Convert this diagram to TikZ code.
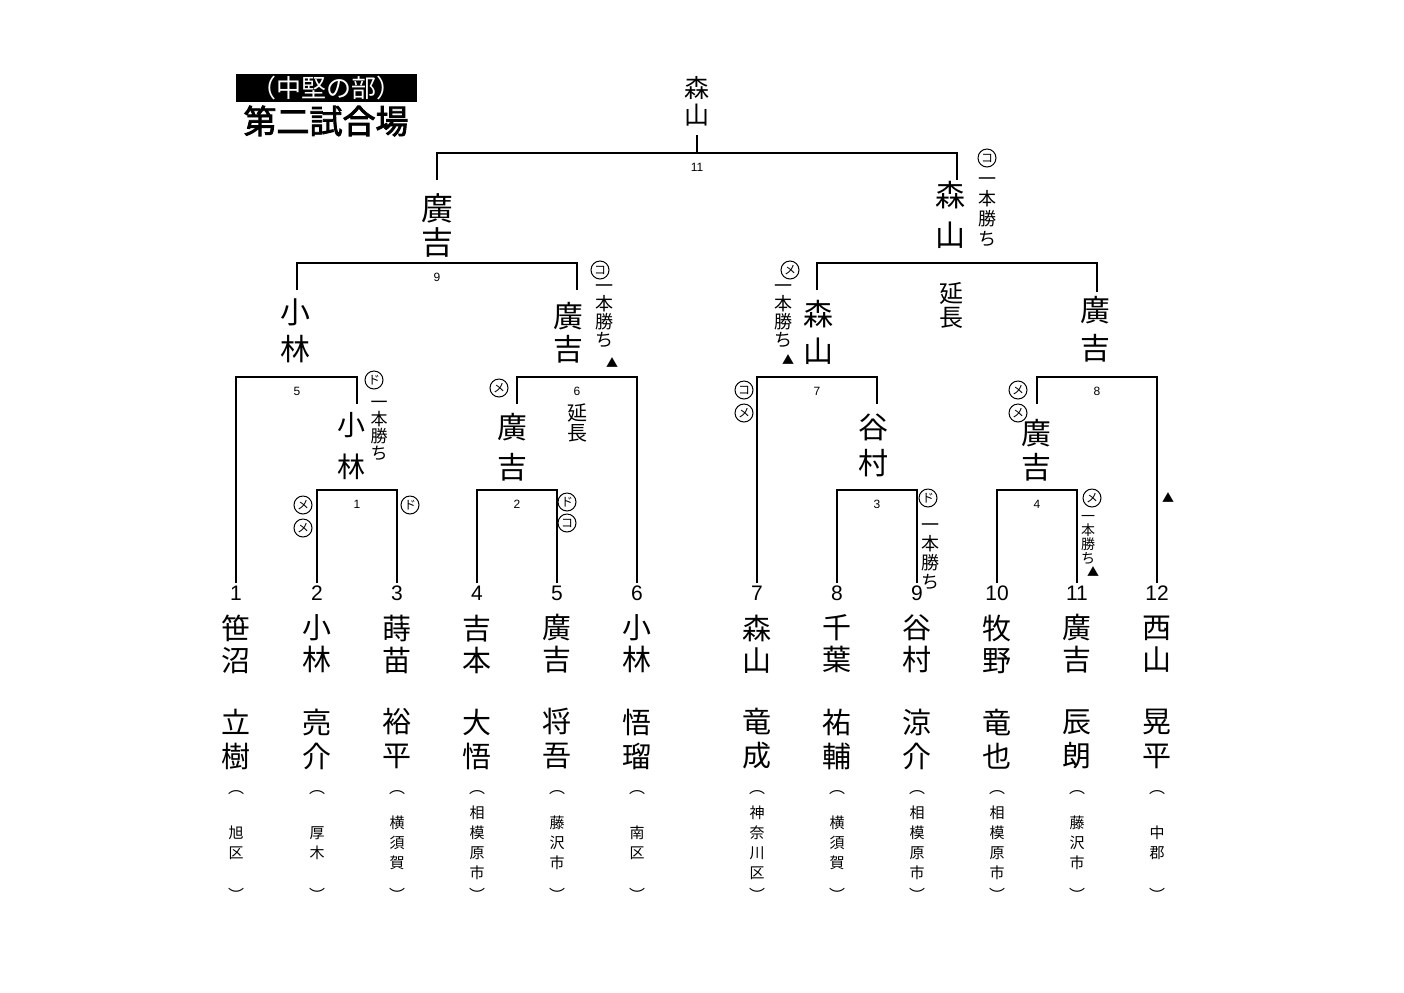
\documentclass[tikz,border=0pt]{standalone}
\usepackage{fontspec}
\setmainfont{Liberation Sans}
\newfontfamily\cjk{Noto Sans CJK JP}
\newfontfamily\cjkbold{Noto Sans CJK JP}[FakeBold=2.5]
\newfontfamily\hand{Noto Sans CJK JP}
\tikzset{line/.style={line width=.8pt},num/.style={font=\fontsize{10.5}{12}\selectfont,inner sep=1pt},mno/.style={font=\fontsize{6}{6}\selectfont,inner sep=0pt}}
\tikzset{sname/.style={font=\cjk\fontsize{14.5}{16}\selectfont,align=center,inner sep=0pt},gname/.style={font=\cjk\fontsize{14.5}{17}\selectfont,align=center,inner sep=0pt},pref/.style={font=\cjk\fontsize{7.5}{10}\selectfont,align=center,inner sep=0pt},paren/.style={font=\cjk\fontsize{8}{8}\selectfont,inner sep=0pt}}
\tikzset{hw/.style 2 args={font=\hand\fontsize{#1}{#2}\selectfont,align=center,inner sep=0pt},waza/.style={circle,draw,line width=.5pt,inner sep=0pt,minimum size=9pt,font=\hand\fontsize{6}{6}\selectfont},tri/.style={font=\cjk\fontsize{6}{6}\selectfont,inner sep=0pt}}

\begin{document}
\begin{tikzpicture}[x=.5pt, y=-.5pt]
\useasboundingbox (0,0) rectangle (1404,992);
% title
\node[fill=black, text=white, font=\cjk\fontsize{12.5}{13}\selectfont, minimum width=90.5pt, minimum height=14pt, inner sep=0pt] (ttl) at (326.5,88) {（中堅の部）};
\node[font=\cjkbold\fontsize{16.5}{17}\selectfont, inner sep=0pt] (venue) at (326,121) {第二試合場};
% players
\foreach \i/\x/\sa/\sb/\ga/\gb/\pr in {1/236/笹/沼/立/樹/{旭\\区},2/317/小/林/亮/介/{厚\\木},3/397/蒔/苗/裕/平/{横\\須\\賀},4/477/吉/本/大/悟/{相\\模\\原\\市},5/557/廣/吉/将/吾/{藤\\沢\\市},6/637/小/林/悟/瑠/{南\\区},7/757/森/山/竜/成/{神\\奈\\川\\区},8/837/千/葉/祐/輔/{横\\須\\賀},9/917/谷/村/涼/介/{相\\模\\原\\市},10/997/牧/野/竜/也/{相\\模\\原\\市},11/1077/廣/吉/辰/朗/{藤\\沢\\市},12/1157/西/山/晃/平/{中\\郡}}{
\node[num] (p\i) at (\x,593) {\i};
\node[sname] (sn\i) at (\x,644) {\sa\\\sb};
\node[gname] (gn\i) at (\x,739) {\ga\\\gb};
\node[paren] (po\i) at (\x,793) {︵};
\node[pref] (pr\i) at (\x,843) {\pr};
\node[paren] (pc\i) at (\x,895) {︶};
}
% bracket
\coordinate (m1) at (357,490); \coordinate (m2) at (517,490);
\coordinate (m3) at (877,490); \coordinate (m4) at (1037,490);
\coordinate (m5) at (297,377); \coordinate (m6) at (577,377);
\coordinate (m7) at (817,377); \coordinate (m8) at (1097,377);
\coordinate (m9) at (437,263); \coordinate (m10) at (957,263);
\coordinate (m11) at (697,153);
\coordinate (w1) at (357,404); \coordinate (w2) at (517,404);
\coordinate (w3) at (877,404); \coordinate (w4) at (1037,404);
\coordinate (w5) at (297,290); \coordinate (w6) at (577,290);
\coordinate (w7) at (817,290); \coordinate (w8) at (1097,292);
\coordinate (w9) at (437,180); \coordinate (w10) at (957,180);
\coordinate (w11) at (697,135);
\draw[line] (p2.north) |- (m1) -| (p3.north);
\draw[line] (p4.north) |- (m2) -| (p5.north);
\draw[line] (p8.north) |- (m3) -| (p9.north);
\draw[line] (p10.north) |- (m4) -| (p11.north);
\draw[line] (p1.north) |- (m5) -| (w1);
\draw[line] (w2) |- (m6) -| (p6.north);
\draw[line] (p7.north) |- (m7) -| (w3);
\draw[line] (w4) |- (m8) -| (p12.north);
\draw[line] (w5) |- (m9) -| (w6);
\draw[line] (w7) |- (m10) -| (w8);
\draw[line] (w9) |- (m11) -| (w10);
\draw[line] (m11) -- (w11);
\foreach \m in {1,...,9,11} \node[mno, yshift=-7pt] (lbl\m) at (m\m) {\m};
% winners
\node[hw={14}{21}] (hn1) at (351,446) {小\\林};
\node[hw={15}{20}] (hn2) at (512,447) {廣\\吉};
\node[hw={15}{18}] (hn3) at (873,445) {谷\\村};
\node[hw={15}{17}] (hn4) at (1036,450) {廣\\吉};
\node[hw={15}{18.5}] (hn5) at (295,331) {小\\林};
\node[hw={15}{16.5}] (hn6) at (568,333) {廣\\吉};
\node[hw={15}{18.5}] (hn7) at (818,332) {森\\山};
\node[hw={15}{19}] (hn8) at (1095,329) {廣\\吉};
\node[hw={16}{17}] (hn9) at (437,225) {廣\\吉};
\node[hw={15}{20}] (hn10) at (950,215) {森\\山};
\node[hw={12.5}{13.5}] (hn11) at (697,101) {森\\山};
% marks
\node[waza] (k1a) at (303,505) {メ};
\node[waza] (k1b) at (303,528) {メ};
\node[waza] (k1c) at (410,505) {ド};
\node[waza] (k2a) at (567,502) {ド};
\node[waza] (k2b) at (567,523) {コ};
\node[waza] (k3a) at (928,498) {ド};
\node[hw={9}{9.5}] (ip3) at (930,557) {一\\本\\勝\\ち};
\node[waza] (k4a) at (1092,498) {メ};
\node[hw={7}{7}] (ip4) at (1088,540) {一\\本\\勝\\ち};
\node[tri] (t4) at (1093,572) {▲};
\node[tri] (t12) at (1168,498) {▲};
\node[waza] (k5a) at (374,380) {ド};
\node[hw={8.5}{8.5}] (ip5) at (379,431) {一\\本\\勝\\ち};
\node[waza] (k6a) at (499,388) {メ};
\node[hw={10}{10}] (ex6) at (577,423) {延\\長};
\node[waza] (k7a) at (744,390) {コ};
\node[waza] (k7b) at (744,413) {メ};
\node[waza] (k8a) at (1018,390) {メ};
\node[waza] (k8b) at (1018,413) {メ};
\node[waza] (k9a) at (600,270) {コ};
\node[hw={9}{9}] (ip9) at (604,316) {一\\本\\勝\\ち};
\node[tri] (t9) at (612,363) {▲};
\node[waza] (k10a) at (790,270) {メ};
\node[hw={9}{9}] (ip10) at (783,316) {一\\本\\勝\\ち};
\node[tri] (t10) at (788,360) {▲};
\node[hw={12}{12}] (ex10) at (951,305) {延\\長};
\node[waza] (k11a) at (987,158) {コ};
\node[hw={9}{10}] (ip11) at (987,212) {一\\本\\勝\\ち};
\end{tikzpicture}
\end{document}
